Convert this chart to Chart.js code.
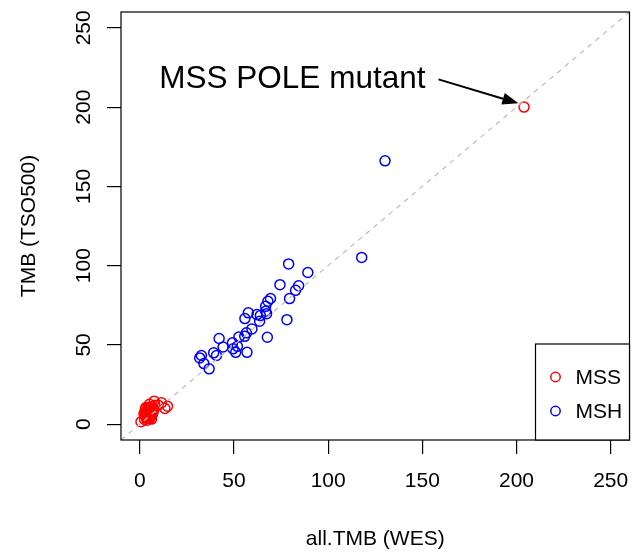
<!DOCTYPE html>
<html>
<head>
<meta charset="utf-8">
<script src="https://cdn.jsdelivr.net/npm/chart.js@4.4.0/dist/chart.umd.min.js"></script>
<style>
  html, body { margin: 0; padding: 0; background: #fff; }
  #wrap { width: 636px; height: 552px; }
</style>
</head>
<body>
<div id="wrap"><canvas id="chartTmb" width="636" height="552"></canvas></div>
<script>
// values
var mssX = [0.6, 2.5, 3.0, 3.5, 4.0, 4.2, 4.5, 5.0, 5.2, 5.5, 6.0, 6.3, 6.8, 7.0, 7.6, 8.0, 9.7, 11.5, 13.3, 14.7, 3.8, 4.6, 5.8, 2.8, 6.5, 3.2, 5.1, 4.4, 2.2, 3.6, 4.9, 5.6, 6.2, 7.3, 2.9, 4.1, 204];
var mssY = [1.5, 3.0, 5.0, 8.0, 4.0, 10.0, 6.0, 7.0, 3.5, 9.0, 5.0, 11.0, 6.5, 8.0, 14.5, 12.0, 12.0, 13.5, 9.9, 11.3, 2.5, 9.5, 4.5, 6.0, 7.5, 10.5, 12.5, 6.8, 6.5, 3.8, 8.6, 10.2, 3.2, 9.2, 9.4, 5.6, 200];
var mshX = [79.0, 117.8, 89.2, 74.4, 84.3, 82.7, 79.5, 69.4, 68.0, 66.8, 66.8, 78.1, 57.6, 62.2, 64.0, 67.3, 55.8, 63.6, 59.5, 56.6, 55.7, 52.6, 67.7, 42.1, 49.2, 44.2, 51.8, 49.5, 50.9, 56.9, 39.2, 40.7, 32.7, 31.8, 34.0, 36.8, 130.2];
var mshY = [101.1, 105.2, 95.7, 88.0, 87.3, 84.4, 79.2, 79.3, 77.5, 74.3, 71.2, 65.9, 70.2, 69.1, 68.5, 69.7, 66.6, 64.9, 60.1, 57.6, 55.4, 55.0, 54.8, 54.0, 51.3, 48.7, 49.1, 47.5, 45.3, 45.3, 45.0, 43.3, 43.3, 41.8, 38.2, 34.9, 166.1];
var tickValues = [0, 50, 100, 150, 200, 250];
var axisRange = [-10, 260];
var xTitle = "all.TMB (WES)";
var yTitle = "TMB (TSO500)";
var legendLabels = ["MSS", "MSH"];
var seriesColors = ["#ff0000", "#0000ff"];
var noteText = "MSS POLE mutant";
var notePos = [81, 218];
var arrowFrom = [158.6, 217.5];
var arrowTo = [201, 202.4];

var fontFamily = '"Liberation Sans", Arial, Helvetica, sans-serif';

function toPoints(xs, ys) {
    var out = [];
    for (var i = 0; i < xs.length; i++) {
        out.push({ x: xs[i], y: ys[i] });
    }
    return out;
}

// box, rotated y labels, titles, legend and the note
var extras = {
    id: "extras",
    afterDraw: function(chart) {
        var ctx = chart.ctx;
        var a = chart.chartArea;
        var xs = chart.scales.x;
        var ys = chart.scales.y;
        ctx.save();
        ctx.strokeStyle = "#000";
        ctx.lineWidth = 1.2;
        ctx.strokeRect(a.left, a.top, a.right - a.left, a.bottom - a.top);

        ctx.fillStyle = "#000";
        ctx.font = "21px " + fontFamily;
        ctx.textAlign = "center";
        ctx.textBaseline = "alphabetic";
        tickValues.forEach(function(v) {
            ctx.save();
            ctx.translate(90, ys.getPixelForValue(v));
            ctx.rotate(-Math.PI / 2);
            ctx.fillText(String(v), 0, 0);
            ctx.restore();
        });

        ctx.fillText(xTitle, (a.left + a.right) / 2, 544.5);
        ctx.save();
        ctx.translate(35, (a.top + a.bottom) / 2);
        ctx.rotate(-Math.PI / 2);
        ctx.fillText(yTitle, 0, 0);
        ctx.restore();

        // legend
        var lw = 94, lh = 96;
        var lx = a.right - lw, ly = a.bottom - lh;
        ctx.fillStyle = "#fff";
        ctx.fillRect(lx, ly, lw, lh);
        ctx.strokeRect(lx, ly, lw, lh);
        ctx.textAlign = "left";
        ctx.textBaseline = "middle";
        legendLabels.forEach(function(lab, i) {
            var cy = ly + 33 + i * 34;
            ctx.beginPath();
            ctx.arc(lx + 20, cy, 4.7, 0, Math.PI * 2);
            ctx.strokeStyle = seriesColors[i];
            ctx.lineWidth = 1.5;
            ctx.stroke();
            ctx.fillStyle = "#000";
            ctx.fillText(lab, lx + 40, cy + 1);
        });

        // note with arrow
        ctx.font = "31.5px " + fontFamily;
        ctx.textAlign = "center";
        ctx.textBaseline = "middle";
        ctx.fillStyle = "#000";
        ctx.fillText(noteText, xs.getPixelForValue(notePos[0]), ys.getPixelForValue(notePos[1]) + 1);

        var x0 = xs.getPixelForValue(arrowFrom[0]), y0 = ys.getPixelForValue(arrowFrom[1]);
        var x1 = xs.getPixelForValue(arrowTo[0]), y1 = ys.getPixelForValue(arrowTo[1]);
        var ang = Math.atan2(y1 - y0, x1 - x0);
        var hl = 16, hw = 6;
        ctx.strokeStyle = "#000";
        ctx.lineWidth = 2;
        ctx.beginPath();
        ctx.moveTo(x0, y0);
        ctx.lineTo(x1 - Math.cos(ang) * hl, y1 - Math.sin(ang) * hl);
        ctx.stroke();
        ctx.beginPath();
        ctx.moveTo(x1, y1);
        ctx.lineTo(x1 - Math.cos(ang) * hl - Math.sin(ang) * hw, y1 - Math.sin(ang) * hl + Math.cos(ang) * hw);
        ctx.lineTo(x1 - Math.cos(ang) * hl + Math.sin(ang) * hw, y1 - Math.sin(ang) * hl - Math.cos(ang) * hw);
        ctx.closePath();
        ctx.fill();
        ctx.restore();
    }
};

var pointStyle = function(color) {
    return {
        backgroundColor: "rgba(0,0,0,0)",
        borderColor: color,
        borderWidth: 1.5,
        pointRadius: 5,
        pointHoverRadius: 5,
        showLine: false
    };
};

var ctx = document.getElementById("chartTmb");
var tmbChart = new Chart(ctx, {
    type: "scatter",
    data: {
        datasets: [
            {
                // identity line, drawn on top like abline()
                type: "line",
                data: [{ x: axisRange[0], y: axisRange[0] }, { x: axisRange[1], y: axisRange[1] }],
                borderColor: "#bdbdbd",
                borderWidth: 1.2,
                borderDash: [5, 5],
                pointRadius: 0,
                fill: false
            },
            Object.assign({ label: legendLabels[0], data: toPoints(mssX, mssY) }, pointStyle(seriesColors[0])),
            Object.assign({ label: legendLabels[1], data: toPoints(mshX, mshY) }, pointStyle(seriesColors[1]))
        ]
    },
    options: {
        responsive: false,
        animation: false,
        events: [],
        layout: { padding: { top: 12, right: 6, left: 0, bottom: 0 } },
        plugins: {
            legend: { display: false },
            tooltip: { enabled: false }
        },
        scales: {
            x: {
                type: "linear",
                min: axisRange[0],
                max: axisRange[1],
                afterBuildTicks: function(s) {
                    s.ticks = tickValues.map(function(v) { return { value: v }; });
                },
                afterFit: function(s) {
                    s.height = 112;
                    s.paddingLeft = 0;
                    s.paddingRight = 0;
                },
                border: { display: false },
                grid: { drawOnChartArea: false, drawTicks: true, tickLength: 14, color: "#000", lineWidth: 1.2 },
                ticks: { color: "#000", font: { size: 21, family: fontFamily }, padding: 15, maxRotation: 0 }
            },
            y: {
                type: "linear",
                min: axisRange[0],
                max: axisRange[1],
                afterBuildTicks: function(s) {
                    s.ticks = tickValues.map(function(v) { return { value: v }; });
                },
                afterFit: function(s) {
                    s.width = 121;
                    s.paddingTop = 0;
                    s.paddingBottom = 0;
                },
                border: { display: false },
                grid: { drawOnChartArea: false, drawTicks: true, tickLength: 14, color: "#000", lineWidth: 1.2 },
                ticks: { display: false }
            }
        }
    },
    plugins: [extras]
});
</script>
</body>
</html>
